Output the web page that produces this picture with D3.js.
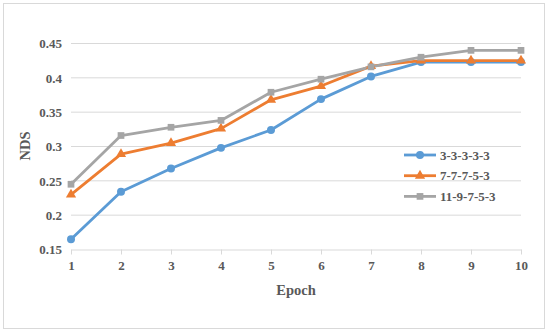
<!DOCTYPE html>
<html>
<head>
<meta charset="utf-8">
<script src="https://cdn.jsdelivr.net/npm/d3@7"></script>
<style>
  body { margin: 0; background: #fff; }
  svg text { font-family: "Liberation Serif", "DejaVu Serif", serif !important; font-weight: bold; fill: #595959; }
</style>
</head>
<body>
<svg id="chart" width="550" height="333"></svg>
<script>
// data
const epochs = [1, 2, 3, 4, 5, 6, 7, 8, 9, 10];
const seriesNames = ["3-3-3-3-3", "7-7-7-5-3", "11-9-7-5-3"];
const nds333 = [0.165, 0.234, 0.268, 0.298, 0.324, 0.369, 0.402, 0.423, 0.423, 0.423];
const nds777 = [0.230, 0.289, 0.305, 0.326, 0.368, 0.388, 0.417, 0.425, 0.425, 0.425];
const nds1197 = [0.245, 0.316, 0.328, 0.338, 0.379, 0.398, 0.416, 0.430, 0.440, 0.440];
const yTicks = [0.15, 0.2, 0.25, 0.3, 0.35, 0.4, 0.45];

const colors = ["#5b9bd5", "#ed7d31", "#a5a5a5"];
const shapes = [d3.symbolCircle, d3.symbolTriangle, d3.symbolSquare];
const sizes = [50, 45, 45];

const series = seriesNames.map((name, i) => ({
  name: name,
  values: [nds333, nds777, nds1197][i].map((v, j) => ({ x: epochs[j], y: v }))
}));

const svg = d3.select("#chart");
const serif = "'Liberation Serif', 'DejaVu Serif', serif";

// outer frame
svg.append("rect")
  .attr("x", 3.5).attr("y", 3.5)
  .attr("width", 541).attr("height", 325)
  .attr("fill", "#fff")
  .attr("stroke", "#d9d9d9");

const x = d3.scaleLinear().domain([1, 10]).range([71, 521]);
const y = d3.scaleLinear().domain([0.15, 0.45]).range([249.5, 43.5]);

// gridlines
svg.append("g")
  .selectAll("line")
  .data(yTicks.slice(1))
  .enter()
  .append("line")
    .attr("x1", x(1)).attr("x2", x(10))
    .attr("y1", d => y(d)).attr("y2", d => y(d))
    .attr("stroke", "#d9d9d9")
    .attr("stroke-width", 1);

// x axis
const xAxis = svg.append("g")
  .attr("transform", `translate(0,${y(0.15)})`)
  .call(d3.axisBottom(x).tickValues(epochs).tickFormat(d3.format("d")).tickSizeInner(5).tickSizeOuter(0).tickPadding(6));
xAxis.attr("font-family", null);
xAxis.select(".domain").attr("stroke", "#d9d9d9");
xAxis.selectAll(".tick line").attr("stroke", "#d9d9d9");
xAxis.selectAll("text").style("font-size", "13px").style("font-family", serif);

// y axis (labels only)
const yAxis = svg.append("g")
  .attr("transform", `translate(${x(1)},0)`)
  .call(d3.axisLeft(y).tickValues(yTicks).tickFormat(d => String(+d.toFixed(2))).tickSize(0).tickPadding(9));
yAxis.attr("font-family", null);
yAxis.select(".domain").remove();
yAxis.selectAll("text").style("font-size", "13px").style("font-family", serif);

// axis titles
svg.append("text")
  .attr("x", 296).attr("y", 295)
  .attr("text-anchor", "middle")
  .style("font-size", "14.5px")
  .style("font-family", serif)
  .text("Epoch");

svg.append("text")
  .attr("transform", "translate(30,146) rotate(-90)")
  .attr("text-anchor", "middle")
  .style("font-size", "14.5px")
  .style("font-family", serif)
  .text("NDS");

// lines
const line = d3.line().x(d => x(d.x)).y(d => y(d.y));

series.forEach((s, i) => {
  svg.append("path")
    .datum(s.values)
    .attr("fill", "none")
    .attr("stroke", colors[i])
    .attr("stroke-width", 2.8)
    .attr("stroke-linejoin", "round")
    .attr("d", line);
});

series.forEach((s, i) => {
  svg.append("g")
    .selectAll("path")
    .data(s.values)
    .enter()
    .append("path")
      .attr("transform", d => `translate(${x(d.x)},${y(d.y)})`)
      .attr("d", d3.symbol().type(shapes[i]).size(sizes[i]))
      .attr("fill", colors[i]);
});

// legend
const legend = svg.append("g");
seriesNames.forEach((name, i) => {
  const ly = 155 + i * 20.7;
  legend.append("line")
    .attr("x1", 404).attr("x2", 436)
    .attr("y1", ly).attr("y2", ly)
    .attr("stroke", colors[i])
    .attr("stroke-width", 2.8);
  legend.append("path")
    .attr("transform", `translate(420,${ly})`)
    .attr("d", d3.symbol().type(shapes[i]).size(sizes[i]))
    .attr("fill", colors[i]);
  legend.append("text")
    .attr("x", 440).attr("y", ly + 4.5)
    .style("font-size", "13px")
    .style("font-family", serif)
    .text(name);
});
</script>
</body>
</html>
